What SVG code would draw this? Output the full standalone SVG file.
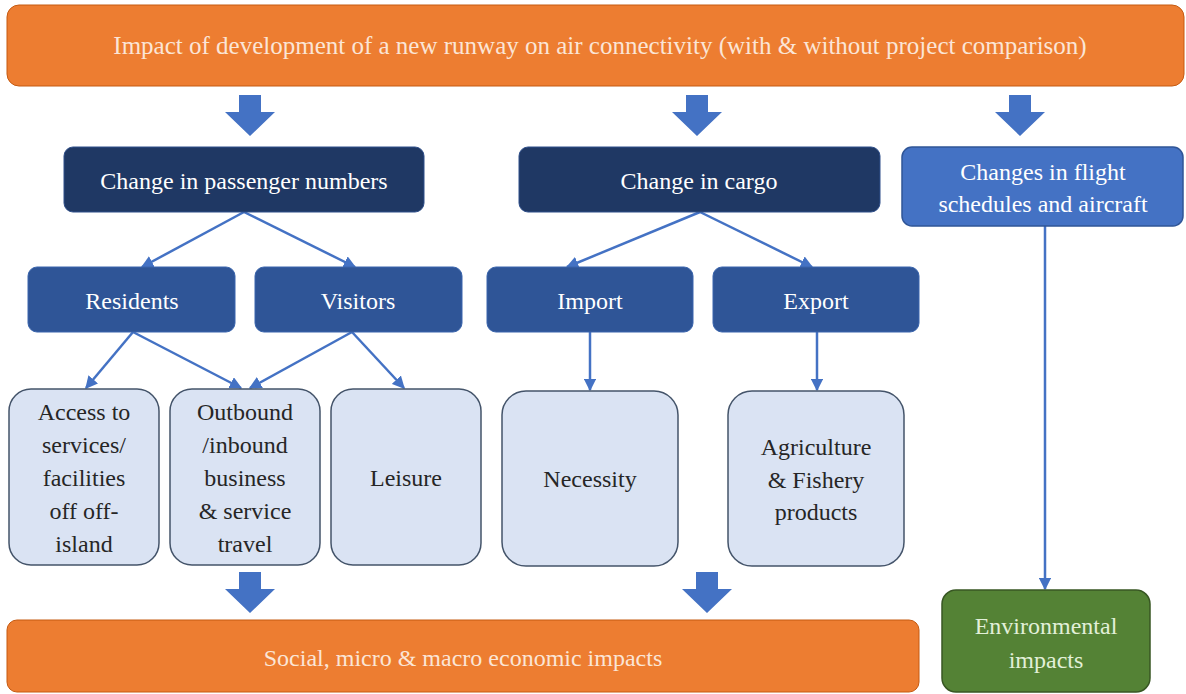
<svg xmlns="http://www.w3.org/2000/svg" width="1186" height="694" viewBox="0 0 1186 694">
  <defs>
    <marker id="ah" viewBox="0 0 10 10" refX="9" refY="5" markerWidth="5" markerHeight="5" orient="auto">
      <path d="M0,0 L10,5 L0,10 z" fill="#4472c4"/>
    </marker>
    <!-- thick down arrow, drawn around its tip-centre at x=0 -->
    <path id="bigarrow" d="M-11,0 H11 V17 H25 L0,41 L-25,17 H-11 Z" fill="#4472c4"/>
    <style>
      .orange { fill: #ed7d31; stroke: #c55a11; stroke-width: 1; }
      .navy { fill: #1f3864; stroke: #2f4f8a; stroke-width: 1; }
      .mid { fill: #2f5597; stroke: #3a65ad; stroke-width: 1; }
      .blue { fill: #4472c4; stroke: #2f5597; stroke-width: 1.5; }
      .light { fill: #dae3f3; stroke: #44546a; stroke-width: 1.5; }
      .green { fill: #548235; stroke: #385723; stroke-width: 1.5; }
      text { font-family: "Times New Roman", "Liberation Serif", serif; font-size: 24px; text-anchor: middle; }
      .w { fill: #ffffff; }
      .cream { fill: #fbe5d6; }
      .dk { fill: #262626; }
      .gw { fill: #e2f0d9; }
      .link { stroke: #4472c4; stroke-width: 2.5; fill: none; marker-end: url(#ah); }
    </style>
  </defs>
  <rect x="0" y="0" width="1186" height="694" fill="#ffffff"/>

  <!-- block arrows -->
  <g id="block-arrows">
    <use href="#bigarrow" x="250" y="95"/>
    <use href="#bigarrow" x="697" y="95"/>
    <use href="#bigarrow" x="1020" y="95"/>
    <use href="#bigarrow" x="250" y="572"/>
    <use href="#bigarrow" x="707" y="572"/>
  </g>

  <!-- connectors -->
  <g id="connectors">
    <line class="link" x1="244" y1="212" x2="142" y2="267"/>
    <line class="link" x1="244" y1="212" x2="355" y2="267"/>
    <line class="link" x1="700" y1="212" x2="567" y2="267"/>
    <line class="link" x1="700" y1="212" x2="812" y2="267"/>
    <line class="link" x1="133" y1="332" x2="86" y2="388"/>
    <line class="link" x1="133" y1="332" x2="241" y2="388"/>
    <line class="link" x1="352" y1="332" x2="250" y2="388"/>
    <line class="link" x1="352" y1="332" x2="404" y2="388"/>
    <line class="link" x1="590" y1="332" x2="590" y2="390"/>
    <line class="link" x1="817" y1="332" x2="817" y2="390"/>
    <line class="link" x1="1045" y1="226" x2="1045" y2="589"/>
  </g>

  <g id="title">
    <rect class="orange" x="7" y="5" width="1177" height="81" rx="12"/>
    <text class="cream" x="600" y="54" style="font-size:25px">Impact of development of  a new runway on air connectivity (with &amp; without project comparison)</text>
  </g>

  <g id="passenger">
    <rect class="navy" x="64" y="147" width="360" height="65" rx="9"/>
    <text class="w" x="244" y="189">Change in passenger numbers</text>
  </g>
  <g id="cargo">
    <rect class="navy" x="519" y="147" width="361" height="65" rx="9"/>
    <text class="w" x="699" y="189">Change in cargo</text>
  </g>
  <g id="flight">
    <rect class="blue" x="902" y="147" width="281" height="79" rx="10"/>
    <text class="w" x="1043" y="180">Changes in flight</text>
    <text class="w" x="1043" y="212">schedules and aircraft</text>
  </g>

  <g id="residents">
    <rect class="mid" x="28" y="267" width="207" height="65" rx="9"/>
    <text class="w" x="132" y="309">Residents</text>
  </g>
  <g id="visitors">
    <rect class="mid" x="255" y="267" width="207" height="65" rx="9"/>
    <text class="w" x="358" y="309">Visitors</text>
  </g>
  <g id="import">
    <rect class="mid" x="487" y="267" width="206" height="65" rx="9"/>
    <text class="w" x="590" y="309">Import</text>
  </g>
  <g id="export">
    <rect class="mid" x="713" y="267" width="206" height="65" rx="9"/>
    <text class="w" x="816" y="309">Export</text>
  </g>

  <g id="access">
    <rect class="light" x="9" y="389" width="150" height="176" rx="22"/>
    <text class="dk" x="84" y="420">Access to</text>
    <text class="dk" x="84" y="453">services/</text>
    <text class="dk" x="84" y="486">facilities</text>
    <text class="dk" x="84" y="519">off off-</text>
    <text class="dk" x="84" y="552">island</text>
  </g>
  <g id="business">
    <rect class="light" x="170" y="389" width="150" height="176" rx="22"/>
    <text class="dk" x="245" y="420">Outbound</text>
    <text class="dk" x="245" y="453">/inbound</text>
    <text class="dk" x="245" y="486">business</text>
    <text class="dk" x="245" y="519">&amp; service</text>
    <text class="dk" x="245" y="552">travel</text>
  </g>
  <g id="leisure">
    <rect class="light" x="331" y="389" width="150" height="176" rx="22"/>
    <text class="dk" x="406" y="486">Leisure</text>
  </g>
  <g id="necessity">
    <rect class="light" x="502" y="391" width="176" height="175" rx="24"/>
    <text class="dk" x="590" y="487">Necessity</text>
  </g>
  <g id="agriculture">
    <rect class="light" x="728" y="391" width="176" height="175" rx="24"/>
    <text class="dk" x="816" y="455">Agriculture</text>
    <text class="dk" x="816" y="488">&amp; Fishery</text>
    <text class="dk" x="816" y="520">products</text>
  </g>

  <g id="economic">
    <rect class="orange" x="7" y="620" width="912" height="72" rx="10"/>
    <text class="cream" x="463" y="666">Social, micro &amp; macro economic impacts</text>
  </g>
  <g id="environmental">
    <rect class="green" x="942" y="590" width="208" height="102" rx="14"/>
    <text class="gw" x="1046" y="634">Environmental</text>
    <text class="gw" x="1046" y="668">impacts</text>
  </g>
</svg>
